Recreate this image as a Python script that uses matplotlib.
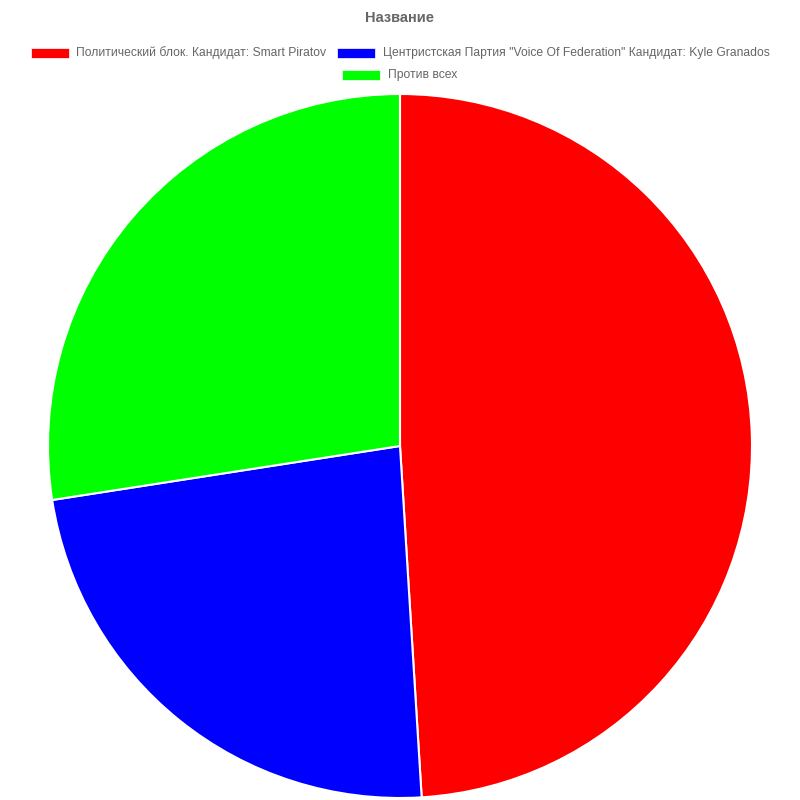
import matplotlib
matplotlib.use("Agg")
import matplotlib.pyplot as plt
from matplotlib.patches import Rectangle

plt.rcParams["font.family"] = ["Liberation Sans", "DejaVu Sans"]

title = "Название"
labels = [
    "Политический блок. Кандидат: Smart Piratov",
    'Центристская Партия "Voice Of Federation" Кандидат: Kyle Granados',
    "Против всех",
]
votes = [25, 12, 14]
colors = ["#ff0000", "#0000ff", "#00ff00"]
legend_rows = [[0, 1], [2]]

W, H = 800, 800
fig = plt.figure(figsize=(W / 100, H / 100), dpi=100)

# pie centred at (400, 446) px, radius 352 px
ax = fig.add_axes([48 / W, (H - 446 - 352) / H, 704 / W, 704 / H])
ax.pie(
    votes,
    colors=colors,
    startangle=90,
    counterclock=False,
    wedgeprops=dict(edgecolor="white", linewidth=1.5),
)
ax.set_xlim(-1, 1)
ax.set_ylim(-1, 1)
ax.set_aspect("equal")
ax.axis("off")

fig.text(400 / W, 1 - 18 / H, title, ha="center", va="center",
         fontsize=10.5, fontweight="bold", color="#666666")

# legend drawn by hand, chart.js style (centred rows)
renderer = fig.canvas.get_renderer()
box_w, box_h, gap, item_pad = 38, 10, 8, 10
row_y = [53, 75]
for r, row in enumerate(legend_rows):
    widths = []
    for i in row:
        t = fig.text(0, 0, labels[i], fontsize=8.7)
        widths.append(t.get_window_extent(renderer).width)
        t.remove()
    total = sum(box_w + gap + w for w in widths) + item_pad * (len(row) - 1)
    x = 400 - total / 2
    y = row_y[r]
    for i, w in zip(row, widths):
        fig.patches.append(Rectangle((x / W, 1 - (y + box_h / 2) / H), box_w / W, box_h / H,
                                     transform=fig.transFigure, facecolor=colors[i],
                                     edgecolor="white", linewidth=0.5))
        fig.text((x + box_w + gap) / W, 1 - y / H, labels[i], ha="left", va="center",
                 fontsize=8.7, color="#666666")
        x += box_w + gap + w + item_pad

fig.savefig("out.png", dpi=100)
